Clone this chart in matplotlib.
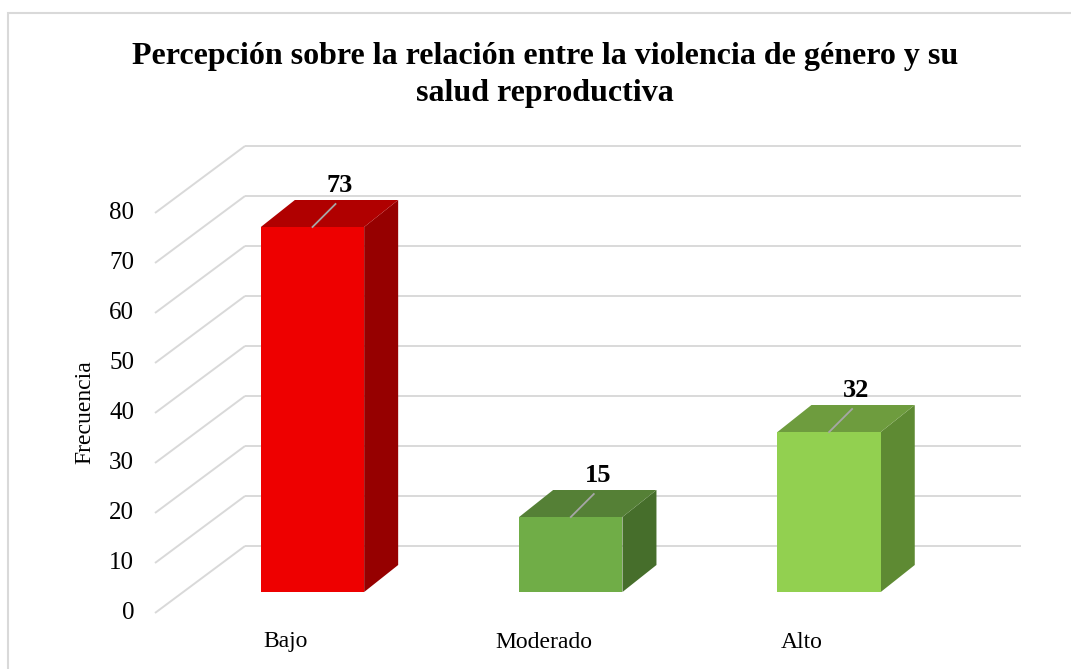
import matplotlib
matplotlib.use("Agg")
import matplotlib.pyplot as plt
from matplotlib.patches import Polygon, Rectangle

# ---- data ----
categories = ["Bajo", "Moderado", "Alto"]
values = [73, 15, 32]
tick_values = [0, 10, 20, 30, 40, 50, 60, 70, 80]
title = "Percepción sobre la relación entre la violencia de género y su\nsalud reproductiva"
ylabel = "Frecuencia"

# ---- styles ----
front_colors = ["#ee0000", "#70ad47", "#92d050"]
top_colors = ["#b00000", "#558036", "#6e9c3e"]
side_colors = ["#960000", "#466e2b", "#5e8a33"]
grid_color = "#d9d9d9"
FONT = "Liberation Serif"

W, H = 1071, 669
fig = plt.figure(figsize=(W / 100, H / 100), dpi=100)

# axes placement (pixels)
ax_left, ax_right, ax_top, ax_bottom = 140, 1035, 130, 669
ax = fig.add_axes([ax_left / W, 1 - ax_bottom / H,
                   (ax_right - ax_left) / W, (ax_bottom - ax_top) / H])

# pixel calibration: value 0 of bar fronts at y=592 px, 5 px per unit;
# category centres at 312.5 px, spacing 258.3 px
y0_px, ppu = 592.0, 5.0
x0_px, spacing = 312.5, 258.3
ax.set_ylim((y0_px - ax_bottom) / ppu, (y0_px - ax_top) / ppu)
ax.set_xlim((ax_left - x0_px) / spacing, (ax_right - x0_px) / spacing)
ax.axis("off")

BAR_W = 0.4
DEPTH_X, DEPTH_Y = 34 / spacing, 27 / ppu
WALL_X0, WALL_X1 = (245 - x0_px) / spacing, (1021 - x0_px) / spacing
WALL_YOFF = 46 / ppu
FLOOR_DX, FLOOR_DY = -90 / spacing, -67 / ppu

# gridlines: back wall + floor diagonals
for v in tick_values:
    yw = v + WALL_YOFF
    ax.plot([WALL_X0, WALL_X1], [yw, yw], color=grid_color, lw=1.4, zorder=1,
            solid_capstyle="butt")
    ax.plot([WALL_X0 + FLOOR_DX, WALL_X0], [yw + FLOOR_DY, yw], color=grid_color,
            lw=1.4, zorder=1, solid_capstyle="butt")
    ax.text(WALL_X0 + FLOOR_DX - 21 / spacing, yw + FLOOR_DY, str(v), ha="right",
            va="center", fontsize=18, family=FONT, color="#000000")

# bars
for i, (cat, v) in enumerate(zip(categories, values)):
    x0, x1 = i - BAR_W / 2, i + BAR_W / 2
    front = Polygon([(x0, 0), (x1, 0), (x1, v), (x0, v)], closed=True,
                    fc=front_colors[i], ec="none", zorder=4)
    top = Polygon([(x0, v), (x1, v), (x1 + DEPTH_X, v + DEPTH_Y),
                   (x0 + DEPTH_X, v + DEPTH_Y)], closed=True,
                  fc=top_colors[i], ec="none", zorder=3)
    side = Polygon([(x1, 0), (x1 + DEPTH_X, DEPTH_Y), (x1 + DEPTH_X, v + DEPTH_Y),
                    (x1, v)], closed=True, fc=side_colors[i], ec="none", zorder=3)
    for p in (side, top, front):
        ax.add_patch(p)
    # leader line and value label
    ax.plot([i, i + 0.089], [v, v + 4.6], color="#a6a6a6", lw=1.3, zorder=5)
    ax.text(i + 0.105, v + 8.4, str(v), ha="center", va="center", fontsize=19,
            fontweight="bold", family=FONT, zorder=6)
    # category label
    ax.text(i - 0.105, -10.0, cat, ha="center", va="center", fontsize=17,
            family=FONT, clip_on=False)

# y label
fig.text(85 / W, 1 - 412 / H, ylabel, rotation=90, ha="center", va="center",
         fontsize=17, family=FONT)

# title
fig.text(545 / W, 1 - 75 / H, title, ha="center", va="center", fontsize=23,
         fontweight="bold", family=FONT, linespacing=1.4)

# chart border
fig.add_artist(Rectangle((8 / W, -0.1), 1.2, (H - 13) / H + 0.1,
                         transform=fig.transFigure, fill=False,
                         ec=grid_color, lw=1.5))

fig.savefig("out.png", dpi=100)
